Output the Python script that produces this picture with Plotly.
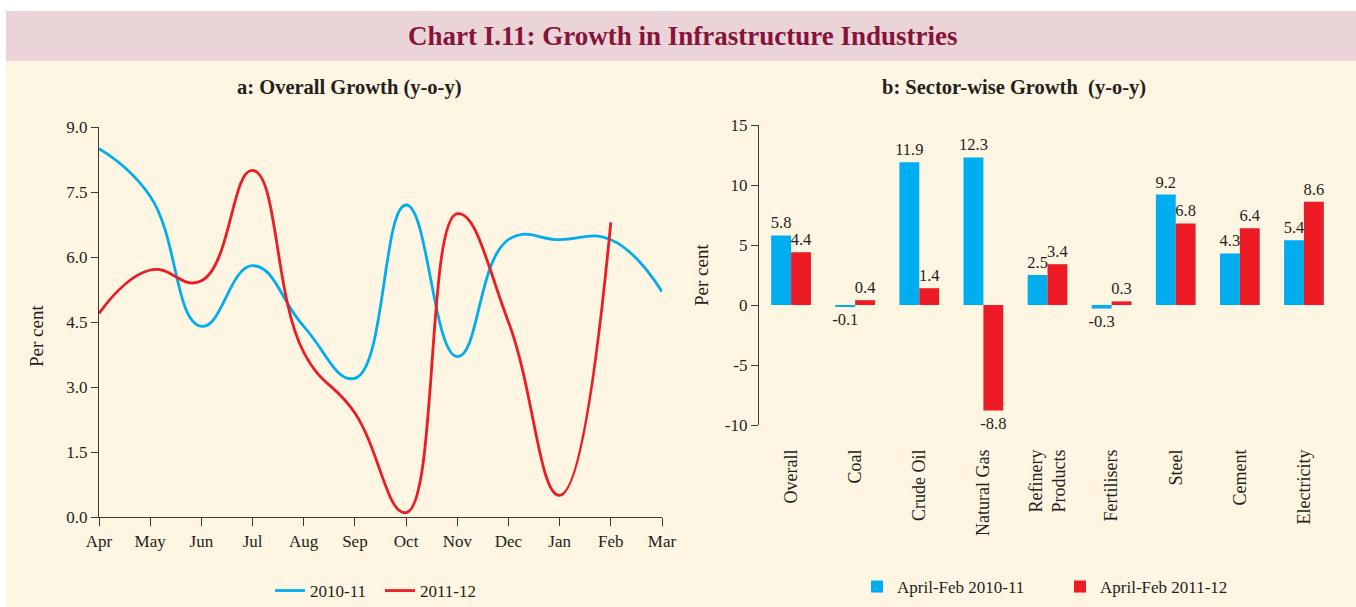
import plotly.graph_objects as go
import numpy as np

# ---------------- data ----------------
months = ['Apr', 'May', 'Jun', 'Jul', 'Aug', 'Sep', 'Oct', 'Nov', 'Dec', 'Jan', 'Feb', 'Mar']
growth_2010_11 = [8.5, 7.4, 4.4, 5.8, 4.4, 3.2, 7.2, 3.7, 6.4, 6.4, 6.4, 5.2]
growth_2011_12 = [4.7, 5.7, 5.45, 8.0, 3.8, 2.4, 0.1, 7.0, 4.5, 0.5, 6.8, None]

sectors = ['Overall', 'Coal', 'Crude Oil', 'Natural Gas', 'Refinery<br>Products',
           'Fertilisers', 'Steel', 'Cement', 'Electricity']
sector_2010_11 = [5.8, -0.1, 11.9, 12.3, 2.5, -0.3, 9.2, 4.3, 5.4]
sector_2011_12 = [4.4, 0.4, 1.4, -8.8, 3.4, 0.3, 6.8, 6.4, 8.6]

left_yticks = [0.0, 1.5, 3.0, 4.5, 6.0, 7.5, 9.0]
right_yticks = [-10, -5, 0, 5, 10, 15]

# ---------------- styling ----------------
W, H = 1356, 607
BLUE = '#00AEEF'
RED = '#ED1C24'
CREAM = '#FEF5E2'
PINK = '#EBD4D7'
MAROON = '#86133A'
AX = '#3a3a3a'
TXT = '#231F20'
FONT = 'Liberation Serif'
SMOOTH = 1.3


def fx(px):
    return px / W


def fy(py):
    return 1 - py / H


fig = go.Figure()

fig.add_trace(go.Scatter(x=months, y=growth_2010_11, name='2010-11', mode='lines',
                         line=dict(color=BLUE, width=2.8, shape='spline', smoothing=SMOOTH),
                         xaxis='x', yaxis='y', legend='legend'))
fig.add_trace(go.Scatter(x=months, y=growth_2011_12, name='2011-12', mode='lines',
                         line=dict(color=RED, width=2.8, shape='spline', smoothing=SMOOTH),
                         xaxis='x', yaxis='y', legend='legend'))

fig.add_trace(go.Bar(x=sectors, y=sector_2010_11, name='April-Feb 2010-11',
                     marker=dict(color=BLUE, line=dict(width=0)),
                     text=[f'{v:.1f}' for v in sector_2010_11], textposition='outside',
                     textfont=dict(family=FONT, size=16.5, color=TXT), constraintext='none',
                     cliponaxis=False, xaxis='x2', yaxis='y2', legend='legend2'))
fig.add_trace(go.Bar(x=sectors, y=sector_2011_12, name='April-Feb 2011-12',
                     marker=dict(color=RED, line=dict(width=0)),
                     text=[f'{v:.1f}' for v in sector_2011_12], textposition='outside',
                     textfont=dict(family=FONT, size=16.5, color=TXT), constraintext='none',
                     cliponaxis=False, xaxis='x2', yaxis='y2', legend='legend2'))

n = len(sectors)
boundaries = list(np.arange(n + 1) - 0.5)

fig.update_layout(
    width=W, height=H,
    margin=dict(l=0, r=0, t=0, b=0, pad=0, autoexpand=False),
    paper_bgcolor='white',
    plot_bgcolor='rgba(0,0,0,0)',
    font=dict(family=FONT, size=16, color=TXT),
    barmode='group', bargap=0.38, bargroupgap=0,
    xaxis=dict(domain=[fx(99), fx(662)], anchor='y', type='category', range=[0, 11],
               automargin=False,
               showline=True, linecolor=AX, linewidth=1.3, ticks='outside', ticklen=8,
               tickcolor=AX, tickwidth=1.3, showgrid=False, zeroline=False,
               tickfont=dict(family=FONT, size=17, color=TXT)),
    yaxis=dict(domain=[fy(517), fy(127)], anchor='x', range=[0, 9], tickvals=left_yticks,
               automargin=False,
               tickformat='.1f', showline=True, linecolor=AX, linewidth=1.3, ticks='outside',
               ticklen=7, tickcolor=AX, tickwidth=1.3, showgrid=False, zeroline=False,
               tickfont=dict(family=FONT, size=17, color=TXT)),
    xaxis2=dict(domain=[fx(759), fx(1336)], anchor='y2', type='category',
                automargin=False,
                range=[-0.5, n - 0.5], showline=False, ticks='', showgrid=False,
                zeroline=False, tickangle=-90, ticklabelstandoff=20,
                tickfont=dict(family=FONT, size=18, color=TXT)),
    xaxis3=dict(overlaying='x2', anchor='free', position=fy(305), range=[-0.5, n - 0.5],
                automargin=False,
                tickvals=boundaries, showticklabels=False, ticks='outside', ticklen=6,
                tickcolor=AX, tickwidth=1.3, showline=True, linecolor=AX, linewidth=1.3,
                showgrid=False, zeroline=False),
    yaxis2=dict(domain=[fy(425), fy(125)], anchor='x2', range=[-10, 15], tickvals=right_yticks,
                automargin=False,
                ticktext=[str(v) for v in right_yticks],
                showline=True, linecolor=AX, linewidth=1.3, ticks='outside', ticklen=7,
                tickcolor=AX, tickwidth=1.3, showgrid=False, zeroline=False,
                tickfont=dict(family=FONT, size=17, color=TXT)),
    legend=dict(orientation='h', x=fx(270), xanchor='left', y=fy(591), yanchor='middle',
                bgcolor='rgba(0,0,0,0)', font=dict(family=FONT, size=17, color=TXT),
                itemwidth=30, entrywidth=65, entrywidthmode='pixels'),
    legend2=dict(orientation='h', x=fx(857), xanchor='left', y=fy(587), yanchor='middle',
                 bgcolor='rgba(0,0,0,0)', font=dict(family=FONT, size=17, color=TXT),
                 entrywidth=158, entrywidthmode='pixels'),
    shapes=[
        dict(type='rect', xref='paper', yref='paper', x0=fx(6), x1=1, y0=fy(61), y1=fy(11),
             fillcolor=PINK, line=dict(width=0), layer='below'),
        dict(type='rect', xref='paper', yref='paper', x0=fx(6), x1=1, y0=0, y1=fy(61),
             fillcolor=CREAM, line=dict(width=0), layer='below'),
    ],
    annotations=[
        dict(text='<b>Chart I.11: Growth in Infrastructure Industries</b>', xref='paper',
             yref='paper', x=fx(683), y=fy(36), showarrow=False, xanchor='center',
             yanchor='middle', font=dict(family=FONT, size=27, color=MAROON)),
        dict(text='<b>a: Overall Growth (y-o-y)</b>', xref='paper', yref='paper',
             x=fx(350), y=fy(88), showarrow=False, xanchor='center', yanchor='middle',
             font=dict(family=FONT, size=20.5, color=TXT)),
        dict(text='<b>b: Sector-wise Growth  (y-o-y)</b>', xref='paper', yref='paper',
             x=fx(1014), y=fy(88), showarrow=False, xanchor='center', yanchor='middle',
             font=dict(family=FONT, size=20.5, color=TXT)),
        dict(text='Per cent', xref='paper', yref='paper', x=fx(36), y=fy(336),
             showarrow=False, textangle=-90, xanchor='center', yanchor='middle',
             font=dict(family=FONT, size=19, color=TXT)),
        dict(text='Per cent', xref='paper', yref='paper', x=fx(701), y=fy(275),
             showarrow=False, textangle=-90, xanchor='center', yanchor='middle',
             font=dict(family=FONT, size=19, color=TXT)),
    ],
)

fig.write_html(
    'out.html',
    config={'displayModeBar': False},
    post_script=("document.body.style.margin='0';document.body.style.padding='0';"
                 "document.body.style.overflow='hidden';"
                 "document.documentElement.style.overflow='hidden';"
                 "var gd=document.getElementById('{plot_id}');"
                 "gd.style.position='fixed';gd.style.top='0px';gd.style.left='0px';"),
)
